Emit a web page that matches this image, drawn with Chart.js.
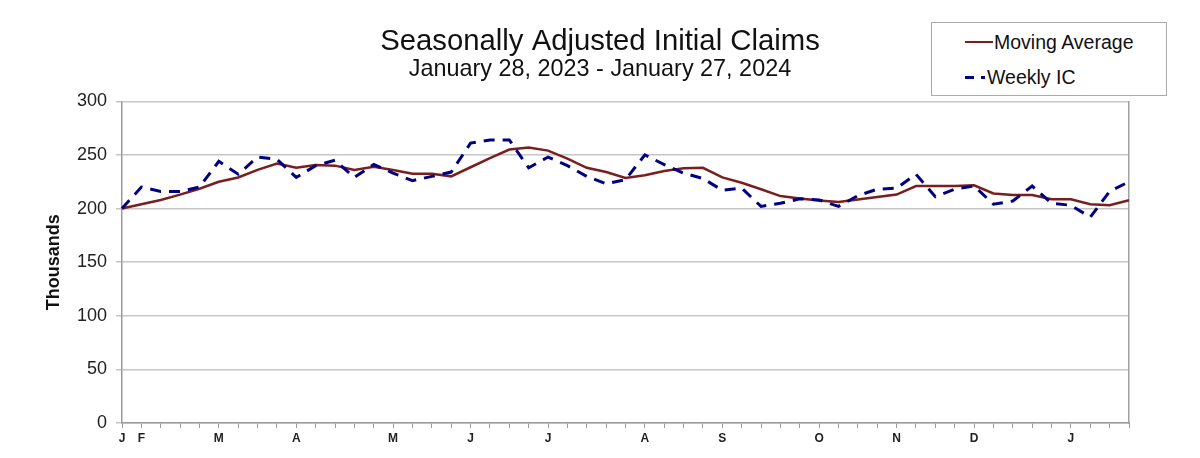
<!DOCTYPE html>
<html>
<head>
<meta charset="utf-8">
<script src="https://cdn.jsdelivr.net/npm/chart.js@4.4.0/dist/chart.umd.min.js"></script>
<style>
html,body{margin:0;padding:0;background:#fff;}
#wrap{position:relative;width:1200px;height:458px;overflow:hidden;}
#c{position:absolute;left:0;top:0;}
#legend{position:absolute;left:931px;top:22px;width:236px;height:74px;border:1.5px solid #ababab;box-sizing:border-box;background:#fff;
  font-family:'Liberation Sans',Arial,sans-serif;font-size:19.5px;color:#111;}
.row{position:absolute;left:0;height:22px;line-height:22px;white-space:nowrap;}
.sw{position:absolute;top:10px;height:0;}
.txt{position:absolute;top:0;}
</style>
</head>
<body>
<div id="wrap">
<canvas id="c" width="1200" height="458"></canvas>
<div id="legend">
  <div class="row" style="top:8px;">
    <span class="sw" style="left:33px;width:28px;border-top:2px solid #7a1f1f;"></span>
    <span class="txt" style="left:62px;">Moving Average</span>
  </div>
  <div class="row" style="top:43px;">
    <span class="sw" style="left:33px;width:9px;border-top:3px solid #000080;"></span>
    <span class="sw" style="left:49px;width:4px;border-top:3px solid #000080;"></span>
    <span class="txt" style="left:55px;">Weekly IC</span>
  </div>
</div>
</div>
<script>
// Week labels (Jan 28, 2023 ... Jan 27, 2024); month letter on first week of each month
const weekLabels = ['J','F','','','','M','','','','A','','','','','M','','','','J','','','','J','','','','','A','','','','S','','','','','O','','','','N','','','','D','','','','','J','','',''];

// Weekly initial claims (thousands)
const weeklyIC = [200,220,216,216,220,244,232,248,246,229,240,245,229,241,233,226,230,234,261,264,264,238,248,240,230,223,227,250,241,233,228,217,219,202,205,209,208,202,212,218,219,232,211,218,221,204,207,221,205,203,192,216,225];

// 4-week moving average (thousands)
const movingAvg = [200,204,208,213,218.5,225,229,236,242,238,240.5,240,236,239,236,232.4,232.4,230,238.5,247,255,257,254,246.6,238,234,228.6,231,235,237.5,238,229,224,218,211.6,209.4,207.6,206,208.5,210.7,213,221,221,221,221.7,214,212.7,212.7,208.7,208.7,204,203,207.7];

const yTicks = [0,50,100,150,200,250,300];

const FONT = "'Liberation Sans', Arial, sans-serif";

const bgPlugin = {
  id: 'bg',
  beforeDraw(chart) {
    const {ctx, width, height} = chart;
    ctx.save();
    ctx.fillStyle = '#fff';
    ctx.fillRect(0, 0, width, height);
    ctx.restore();
  }
};

new Chart(document.getElementById('c'), {
  type: 'line',
  data: {
    labels: weekLabels,
    datasets: [
      {
        label: 'Moving Average',
        data: movingAvg,
        borderColor: '#7a1f1f',
        borderWidth: 2.5,
        pointRadius: 0,
        tension: 0,
        fill: false,
        order: 2
      },
      {
        label: 'Weekly IC',
        data: weeklyIC,
        borderColor: '#000080',
        borderWidth: 3,
        borderDash: [11, 8],
        pointRadius: 0,
        tension: 0,
        fill: false,
        order: 1
      }
    ]
  },
  options: {
    responsive: false,
    animation: false,
    devicePixelRatio: 1,
    layout: { padding: { left: 0, right: 0, top: 0, bottom: 0 } },
    plugins: {
      legend: { display: false },
      tooltip: { enabled: false },
      title: {
        display: true,
        text: 'Seasonally Adjusted Initial Claims',
        color: '#111',
        font: { family: FONT, size: 29.3, weight: 'normal', lineHeight: 1 },
        padding: { top: 27, bottom: 0 }
      },
      subtitle: {
        display: true,
        text: 'January 28, 2023 - January 27, 2024',
        color: '#111',
        font: { family: FONT, size: 23.4, weight: 'normal', lineHeight: '18px' },
        padding: { top: 4, bottom: 23 }
      }
    },
    scales: {
      x: {
        type: 'category',
        offset: false,
        grid: { display: true, drawOnChartArea: false, drawTicks: true, tickLength: 5, color: '#9a9a9a', lineWidth: 1 },
        border: { display: true, color: '#9a9a9a', width: 1.5 },
        ticks: {
          autoSkip: false, maxRotation: 0, minRotation: 0, padding: 3,
          color: '#222', font: { family: FONT, size: 12, weight: 'bold' }
        },
        afterFit(scale) { scale.height = 35; }
      },
      y: {
        min: 0, max: 300,
        afterBuildTicks(scale) { scale.ticks = yTicks.map(v => ({ value: v })); },
        grid: { color: '#c6c6c6', lineWidth: 1.5, drawTicks: true, tickLength: 6 },
        border: { display: true, color: '#9a9a9a', width: 1.5 },
        ticks: { padding: 9, color: '#222', font: { family: FONT, size: 18 } },
        title: {
          display: true, text: 'Thousands', color: '#111',
          font: { family: FONT, size: 18, weight: 'bold' },
          padding: { top: 43, bottom: 0 }
        },
        afterFit(scale) { scale.width = 122; }
      },
      yRight: {
        position: 'right',
        min: 0, max: 300,
        grid: { display: false, drawOnChartArea: false, drawTicks: false },
        border: { display: true, color: '#a0a0a0', width: 1.5 },
        ticks: { display: false },
        afterFit(scale) { scale.width = 71; }
      }
    }
  },
  plugins: [bgPlugin]
});
</script>
</body>
</html>
